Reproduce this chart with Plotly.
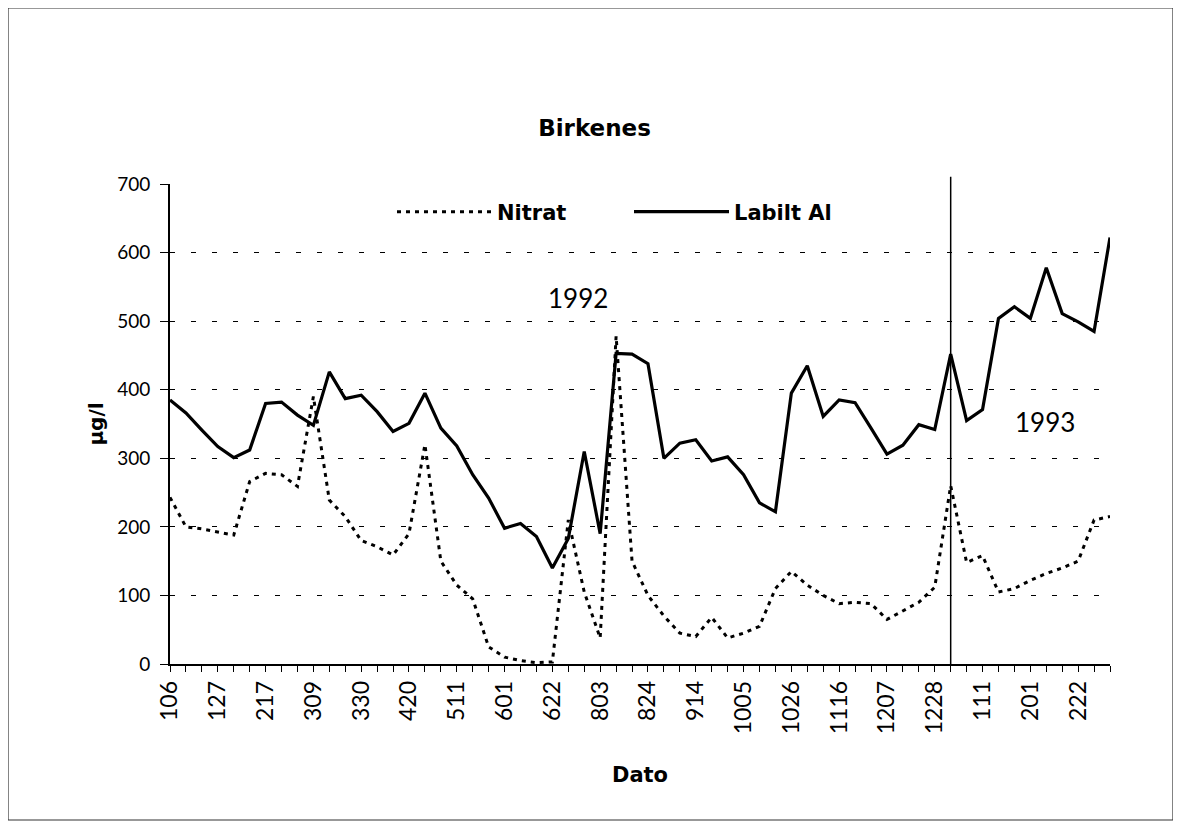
import plotly.graph_objects as go

# sampling dates (mmdd), 1992 -> 1993, shown every 3rd
dates = ["106", "113", "120", "127", "203", "210", "217", "224", "302", "309",
         "316", "323", "330", "406", "413", "420", "427", "504", "511", "518",
         "525", "601", "608", "615", "622", "706", "720", "803", "810", "817",
         "824", "831", "907", "914", "921", "928", "1005", "1012", "1019", "1026",
         "1102", "1109", "1116", "1123", "1130", "1207", "1214", "1221", "1228", "101",
         "104", "111", "118", "125", "201", "208", "215", "222", "301", "308"]

labilt_al = [385, 366, 341, 317, 301, 312, 380, 382, 363, 348,
             426, 387, 392, 368, 339, 351, 395, 344, 318, 276,
             242, 198, 205, 186, 140, 183, 310, 190, 453, 452,
             438, 300, 322, 327, 296, 302, 276, 235, 222, 395,
             435, 361, 385, 381, 344, 306, 319, 349, 342, 452,
             355, 371, 504, 521, 504, 578, 511, 499, 485, 622]

nitrat = [243, 200, 197, 192, 188, 266, 278, 276, 259, 390,
          239, 215, 180, 171, 159, 190, 320, 150, 115, 95,
          25, 10, 5, 2, 3, 210, 105, 38, 478, 150,
          100, 70, 45, 40, 68, 38, 45, 55, 110, 135,
          115, 100, 88, 90, 88, 65, 78, 90, 112, 260,
          148, 158, 105, 110, 122, 132, 140, 150, 210, 215]

year_break = "101"
year_labels = [("1992", 25.6, 534), ("1993", 54.9, 353)]

FONT = "Lato"
BOLD = "DejaVu Sans"
x_idx = list(range(len(dates)))
tick_text = [d if i % 3 == 0 else "" for i, d in enumerate(dates)]

fig = go.Figure()
fig.add_trace(go.Scatter(x=x_idx, y=nitrat, name="Nitrat", mode="lines",
                         line=dict(color="black", width=3, dash="4px,5px")))
fig.add_trace(go.Scatter(x=x_idx, y=labilt_al, name="Labilt Al", mode="lines",
                         line=dict(color="black", width=3.2)))

# year boundary line
bx = dates.index(year_break) / (len(dates) - 1)
fig.add_shape(type="line", xref="paper", yref="paper", x0=bx, x1=bx, y0=0, y1=1.015,
              line=dict(color="black", width=1.5))

for txt, xv, yv in year_labels:
    fig.add_annotation(x=xv, y=yv, text=txt, showarrow=False,
                       font=dict(family=FONT, size=26, color="black"))

# outer frame
fig.add_shape(type="rect", xref="paper", yref="paper",
              x0=(8 - 170) / 940, x1=(1173 - 170) / 940,
              y0=(664 - 820) / 480, y1=(664 - 8) / 480,
              line=dict(color="#333", width=1.2))

fig.update_layout(
    width=1173, height=820,
    margin=dict(l=162, r=71, t=176, b=164),
    paper_bgcolor="white", plot_bgcolor="white",
    font=dict(family=FONT, color="black"),
    title=dict(text="<b>Birkenes</b>", x=0.5, xanchor="center", y=1 - 120 / 820, yanchor="middle",
               font=dict(family=BOLD, size=23, color="black")),
    showlegend=True,
    legend=dict(orientation="h", x=(392 - 170) / 940, y=(664 - 212) / 480, yanchor="middle",
                xanchor="left", bgcolor="rgba(0,0,0,0)", itemwidth=95, entrywidth=127,
                font=dict(family=BOLD, size=21, color="black", weight="bold")),
    xaxis=dict(range=[0, len(dates) - 1], tickmode="array", tickvals=x_idx, ticktext=tick_text,
               tickangle=-90, ticks="outside", ticklen=6, tickwidth=1.2, tickcolor="black",
               showline=True, linecolor="black", linewidth=1.5, showgrid=False, zeroline=False,
               tickfont=dict(family=FONT, size=23, color="black"),
               title=dict(text="<b>Dato</b>", font=dict(family=BOLD, size=21, color="black"), standoff=34)),
    xaxis2=dict(range=[0, len(dates) - 1], overlaying="x", anchor="y", side="bottom",
                tickmode="array", tickvals=x_idx, ticks="inside", ticklen=6, tickwidth=1.2,
                tickcolor="black", showticklabels=False, showgrid=False, zeroline=False, showline=False),
    yaxis=dict(range=[0, 700], dtick=100, ticks="outside", ticklen=8, tickwidth=1.2, tickcolor="black",
               showline=True, linecolor="black", linewidth=2, showgrid=True, gridcolor="black",
               gridwidth=1.3, griddash="5px,16px", zeroline=False, ticklabelstandoff=6,
               tickfont=dict(family=FONT, size=19, color="black"),
               title=dict(text="<b>µg/l</b>", font=dict(family=BOLD, size=20, color="black"), standoff=8)),
)

fig.write_html("out.html")
